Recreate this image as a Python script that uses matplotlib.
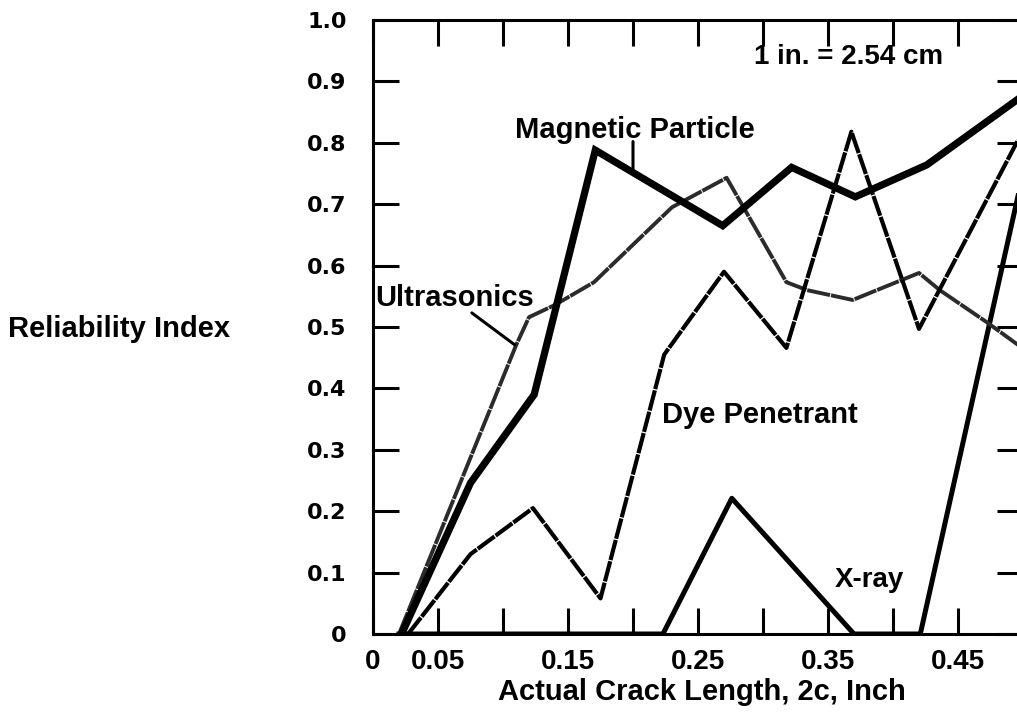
import matplotlib
matplotlib.use("Agg")
import matplotlib.pyplot as plt
from matplotlib.ticker import FixedLocator

# ---- data ----
mp_x = [0.022, 0.075, 0.124, 0.171, 0.269, 0.322, 0.371, 0.426, 0.5]
mp_y = [0.0, 0.246, 0.39, 0.788, 0.665, 0.76, 0.712, 0.764, 0.877]

us_x = [0.02, 0.11, 0.12, 0.14, 0.17, 0.23, 0.272, 0.318, 0.334, 0.369, 0.42, 0.436, 0.472, 0.5]
us_y = [0.0, 0.47, 0.516, 0.536, 0.573, 0.695, 0.743, 0.573, 0.56, 0.544, 0.588, 0.56, 0.508, 0.465]

dp_x = [0.027, 0.075, 0.123, 0.175, 0.224, 0.27, 0.318, 0.368, 0.42, 0.5]
dp_y = [0.0, 0.13, 0.205, 0.058, 0.455, 0.59, 0.466, 0.818, 0.497, 0.82]

xr_x = [0.02, 0.223, 0.276, 0.37, 0.421, 0.5]
xr_y = [0.0, 0.0, 0.221, 0.0, 0.0, 0.75]

x_major = [0, 0.05, 0.15, 0.25, 0.35, 0.45]
x_major_labels = ["0", "0.05", "0.15", "0.25", "0.35", "0.45"]
x_minor = [0.10, 0.20, 0.30, 0.40]
y_ticks = [0, 0.1, 0.2, 0.3, 0.4, 0.5, 0.6, 0.7, 0.8, 0.9, 1.0]
y_labels = ["0", "0.1", "0.2", "0.3", "0.4", "0.5", "0.6", "0.7", "0.8", "0.9", "1.0"]

W, H = 1017, 715
fig = plt.figure(figsize=(W / 100, H / 100), dpi=100)
ax = fig.add_axes([373 / W, (H - 634) / H, 650 / W, 614 / H])

FONT = "Liberation Sans"

ax.plot(us_x, us_y, color="#2b2b2b", lw=2.8, dashes=(6, 0.25), zorder=3)
ax.plot(dp_x, dp_y, color="black", lw=3.0, dashes=(5, 0.3), zorder=3)
ax.plot(xr_x, xr_y, color="black", lw=3.6, zorder=2)
ax.plot(mp_x, mp_y, color="black", lw=5.2, solid_joinstyle="miter", zorder=4)

ax.set_xlim(0, 0.5)
ax.set_ylim(0, 1.0)

for s in ax.spines.values():
    s.set_linewidth(2.2)
    s.set_zorder(5)

ax.xaxis.set_major_locator(FixedLocator(x_major))
ax.xaxis.set_minor_locator(FixedLocator(x_minor))
ax.set_xticklabels(x_major_labels)
ax.set_yticks(y_ticks)
ax.set_yticklabels(y_labels)

ax.tick_params(axis="both", which="both", direction="in", length=19, width=2.2,
               top=True, right=True, bottom=True, left=True)
ax.tick_params(axis="x", which="major", pad=11, labelsize=20)
ax.tick_params(axis="y", which="major", pad=19, labelsize=16)
for lbl in ax.get_xticklabels():
    lbl.set_fontfamily(FONT)
    lbl.set_fontweight("bold")
for lbl in ax.get_yticklabels():
    lbl.set_fontfamily("DejaVu Sans")
    lbl.set_fontweight("bold")

tk = dict(fontfamily=FONT, fontweight="bold", fontsize=21)
fig.text(702 / W, 1 - 692 / H, "Actual Crack Length, 2c, Inch", ha="center", va="center", **tk)
fig.text(8 / W, 1 - 329 / H, "Reliability Index", ha="left", va="center", **tk)

ax.text(0.293, 0.94, "1 in. = 2.54 cm", ha="left", va="center", fontfamily=FONT, fontweight="bold", fontsize=20)
ax.text(0.109, 0.821, "Magnetic Particle", ha="left", va="center", **tk)
ax.text(0.002, 0.547, "Ultrasonics", ha="left", va="center", **tk)
ax.text(0.222, 0.357, "Dye Penetrant", ha="left", va="center", **tk)
ax.text(0.355, 0.088, "X-ray", ha="left", va="center", fontfamily=FONT, fontweight="bold", fontsize=20)

ax.annotate("", xy=(0.2, 0.752), xytext=(0.2, 0.802),
            arrowprops=dict(arrowstyle="-", lw=2.2, color="black", shrinkA=0, shrinkB=0))
ax.annotate("", xy=(0.109, 0.471), xytext=(0.076, 0.523),
            arrowprops=dict(arrowstyle="-", lw=2.2, color="black", shrinkA=0, shrinkB=0))

fig.savefig("out.png", dpi=100)
